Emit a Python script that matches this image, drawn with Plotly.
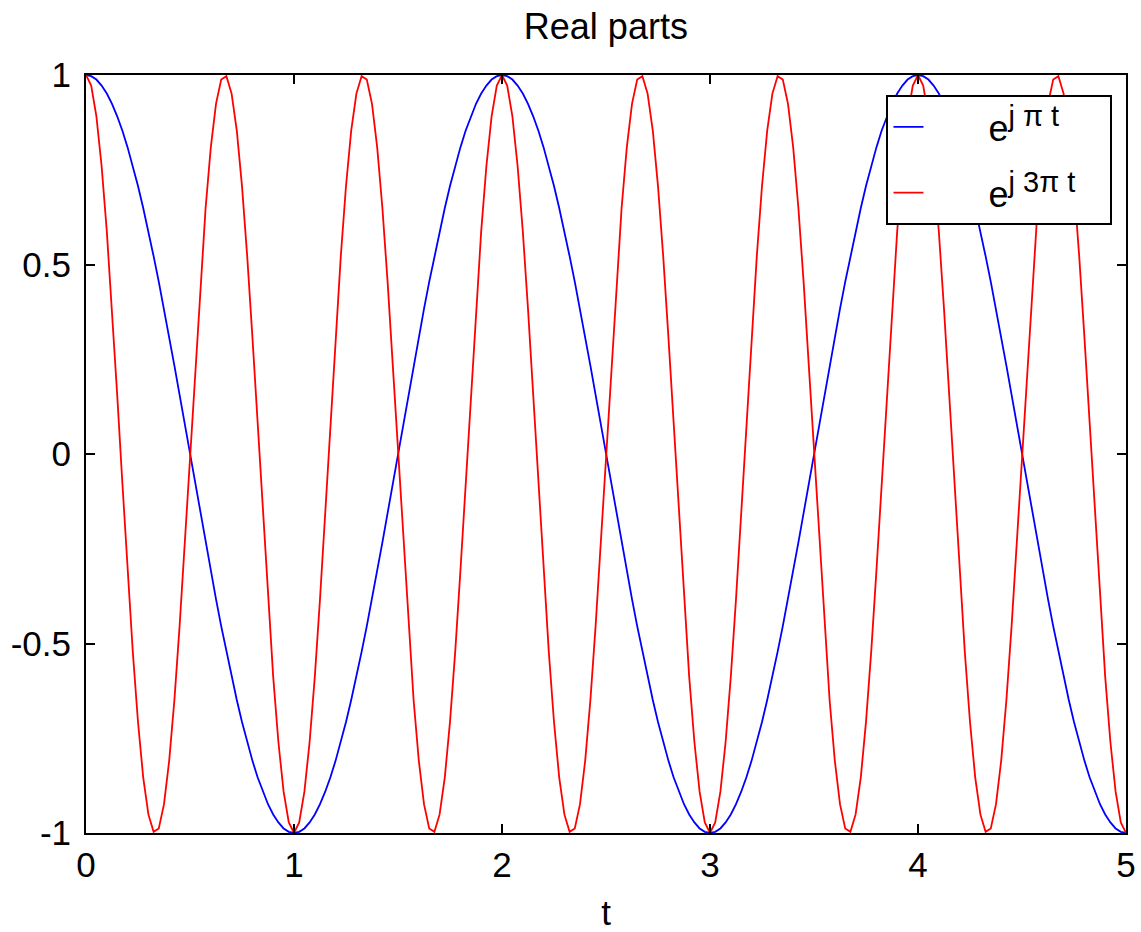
import plotly.graph_objects as go

# Real parts of e^{j*pi*t} and e^{j*3*pi*t}, sampled every 0.025 s over 0..5 s
t_step = 0.025

re_pi = [
    1.000, 0.997, 0.988, 0.972, 0.951, 0.924, 0.891, 0.853, 0.809, 0.760,
    0.707, 0.649, 0.588, 0.522, 0.454, 0.383, 0.309, 0.233, 0.156, 0.078,
    0.000, -0.078, -0.156, -0.233, -0.309, -0.383, -0.454, -0.522, -0.588, -0.649,
    -0.707, -0.760, -0.809, -0.853, -0.891, -0.924, -0.951, -0.972, -0.988, -0.997,
    -1.000, -0.997, -0.988, -0.972, -0.951, -0.924, -0.891, -0.853, -0.809, -0.760,
    -0.707, -0.649, -0.588, -0.522, -0.454, -0.383, -0.309, -0.233, -0.156, -0.078,
    0.000, 0.078, 0.156, 0.233, 0.309, 0.383, 0.454, 0.522, 0.588, 0.649,
    0.707, 0.760, 0.809, 0.853, 0.891, 0.924, 0.951, 0.972, 0.988, 0.997,
    1.000, 0.997, 0.988, 0.972, 0.951, 0.924, 0.891, 0.853, 0.809, 0.760,
    0.707, 0.649, 0.588, 0.522, 0.454, 0.383, 0.309, 0.233, 0.156, 0.078,
    0.000, -0.078, -0.156, -0.233, -0.309, -0.383, -0.454, -0.522, -0.588, -0.649,
    -0.707, -0.760, -0.809, -0.853, -0.891, -0.924, -0.951, -0.972, -0.988, -0.997,
    -1.000, -0.997, -0.988, -0.972, -0.951, -0.924, -0.891, -0.853, -0.809, -0.760,
    -0.707, -0.649, -0.588, -0.522, -0.454, -0.383, -0.309, -0.233, -0.156, -0.078,
    0.000, 0.078, 0.156, 0.233, 0.309, 0.383, 0.454, 0.522, 0.588, 0.649,
    0.707, 0.760, 0.809, 0.853, 0.891, 0.924, 0.951, 0.972, 0.988, 0.997,
    1.000, 0.997, 0.988, 0.972, 0.951, 0.924, 0.891, 0.853, 0.809, 0.760,
    0.707, 0.649, 0.588, 0.522, 0.454, 0.383, 0.309, 0.233, 0.156, 0.078,
    0.000, -0.078, -0.156, -0.233, -0.309, -0.383, -0.454, -0.522, -0.588, -0.649,
    -0.707, -0.760, -0.809, -0.853, -0.891, -0.924, -0.951, -0.972, -0.988, -0.997,
    -1.000,
]

re_3pi = [
    1.000, 0.972, 0.891, 0.760, 0.588, 0.383, 0.156, -0.078, -0.309, -0.522,
    -0.707, -0.853, -0.951, -0.997, -0.988, -0.924, -0.809, -0.649, -0.454, -0.233,
    0.000, 0.233, 0.454, 0.649, 0.809, 0.924, 0.988, 0.997, 0.951, 0.853,
    0.707, 0.522, 0.309, 0.078, -0.156, -0.383, -0.588, -0.760, -0.891, -0.972,
    -1.000, -0.972, -0.891, -0.760, -0.588, -0.383, -0.156, 0.078, 0.309, 0.522,
    0.707, 0.853, 0.951, 0.997, 0.988, 0.924, 0.809, 0.649, 0.454, 0.233,
    0.000, -0.233, -0.454, -0.649, -0.809, -0.924, -0.988, -0.997, -0.951, -0.853,
    -0.707, -0.522, -0.309, -0.078, 0.156, 0.383, 0.588, 0.760, 0.891, 0.972,
    1.000, 0.972, 0.891, 0.760, 0.588, 0.383, 0.156, -0.078, -0.309, -0.522,
    -0.707, -0.853, -0.951, -0.997, -0.988, -0.924, -0.809, -0.649, -0.454, -0.233,
    0.000, 0.233, 0.454, 0.649, 0.809, 0.924, 0.988, 0.997, 0.951, 0.853,
    0.707, 0.522, 0.309, 0.078, -0.156, -0.383, -0.588, -0.760, -0.891, -0.972,
    -1.000, -0.972, -0.891, -0.760, -0.588, -0.383, -0.156, 0.078, 0.309, 0.522,
    0.707, 0.853, 0.951, 0.997, 0.988, 0.924, 0.809, 0.649, 0.454, 0.233,
    0.000, -0.233, -0.454, -0.649, -0.809, -0.924, -0.988, -0.997, -0.951, -0.853,
    -0.707, -0.522, -0.309, -0.078, 0.156, 0.383, 0.588, 0.760, 0.891, 0.972,
    1.000, 0.972, 0.891, 0.760, 0.588, 0.383, 0.156, -0.078, -0.309, -0.522,
    -0.707, -0.853, -0.951, -0.997, -0.988, -0.924, -0.809, -0.649, -0.454, -0.233,
    0.000, 0.233, 0.454, 0.649, 0.809, 0.924, 0.988, 0.997, 0.951, 0.853,
    0.707, 0.522, 0.309, 0.078, -0.156, -0.383, -0.588, -0.760, -0.891, -0.972,
    -1.000,
]

t = [round(i * t_step, 3) for i in range(len(re_pi))]

x_ticks = [0, 1, 2, 3, 4, 5]
x_tick_text = ["0", "1", "2", "3", "4", "5"]
y_ticks = [-1, -0.5, 0, 0.5, 1]
y_tick_text = ["-1", "-0.5", "0", "0.5", "1"]

FONT = "Liberation Sans, Arial, sans-serif"
SUP = '<sup><span style="font-size:29px">{}</span></sup>'
PAD = "\u00a0" * 6          # gap between the legend swatch and its label
TAIL = "\u00a0" * 3         # room on the right inside the legend box

fig = go.Figure()
fig.add_trace(go.Scatter(
    x=t, y=re_pi, mode="lines",
    name=PAD + "e" + SUP.format("j \u03c0 t") + TAIL,
    line=dict(color="#0000ff", width=1.8), legendgroup="a",
))
fig.add_trace(go.Scatter(
    x=t, y=re_3pi, mode="lines",
    name=PAD + "e" + SUP.format("j 3\u03c0 t") + TAIL,
    line=dict(color="#ff0000", width=1.8), legendgroup="b",
))

axis_common = dict(
    showgrid=False, zeroline=False, showline=True, linecolor="black",
    linewidth=2, mirror="allticks", ticks="inside", ticklen=9,
    tickwidth=2, tickcolor="black", automargin=False,
    tickfont=dict(family=FONT, size=35, color="black"),
)

fig.update_xaxes(
    range=[0, 5], tickmode="array", tickvals=x_ticks, ticktext=x_tick_text,
    title=dict(text="t", font=dict(family=FONT, size=35, color="black"), standoff=19),
    **axis_common,
)
fig.update_yaxes(
    range=[-1, 1], tickmode="array", tickvals=y_ticks, ticktext=y_tick_text,
    ticklabelstandoff=6,
    **axis_common,
)

fig.update_layout(
    width=1141, height=932,
    margin=dict(l=86, r=15, t=75, b=99, autoexpand=False),
    paper_bgcolor="white", plot_bgcolor="white",
    title=dict(text="Real parts", x=0.531, xanchor="center", y=0.972,
               yanchor="middle", yref="container",
               font=dict(family=FONT, size=36, color="black")),
    showlegend=True,
    legend=dict(
        x=0.987, y=0.9736, xanchor="right", yanchor="top",
        bgcolor="white", bordercolor="black", borderwidth=2,
        font=dict(family=FONT, size=36, color="black"),
        tracegroupgap=16,
    ),
)

fig.write_html("out.html")
